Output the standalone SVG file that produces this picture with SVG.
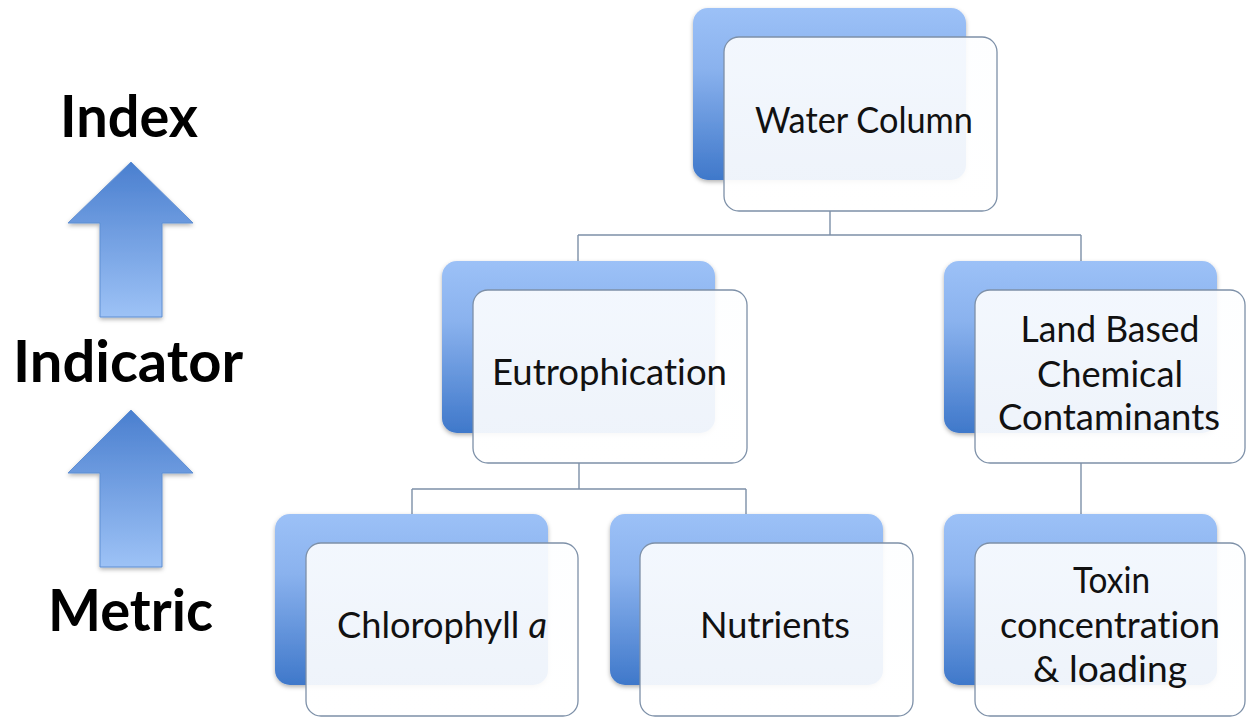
<svg xmlns="http://www.w3.org/2000/svg" width="1246" height="717" viewBox="0 0 1246 717">
  <defs>
    <linearGradient id="backGrad" x1="0" y1="0" x2="0" y2="1">
      <stop offset="0" stop-color="#9CC1F7"/>
      <stop offset="0.35" stop-color="#8AB2EE"/>
      <stop offset="1" stop-color="#3F78CA"/>
    </linearGradient>
    <linearGradient id="frontGrad" x1="0" y1="0" x2="0" y2="1">
      <stop offset="0" stop-color="#FDFEFF" stop-opacity="0.9"/>
      <stop offset="1" stop-color="#FFFFFF" stop-opacity="0.92"/>
    </linearGradient>
    <linearGradient id="arrowGrad" x1="0" y1="0" x2="0" y2="1">
      <stop offset="0" stop-color="#4A7FCF"/>
      <stop offset="1" stop-color="#9DC2F6"/>
    </linearGradient>
    <filter id="shadow" x="-10%" y="-10%" width="120%" height="125%">
      <feDropShadow dx="0" dy="2" stdDeviation="2" flood-color="#000" flood-opacity="0.3"/>
    </filter>
  </defs>
  <style>
    .back { fill: url(#backGrad); filter: url(#shadow); }
    .front { fill: url(#frontGrad); stroke: #7D90A8; stroke-width: 1.3; }
    .conn { fill: none; stroke: #7D90A8; stroke-width: 1.4; }
    .lbl { font-family: Lato, "Open Sans", "Liberation Sans", sans-serif; font-size: 36px; fill: #111; text-anchor: middle; font-variant-ligatures: none; }
    .side { font-family: Lato, "Open Sans", "Liberation Sans", sans-serif; font-size: 57px; font-weight: bold; fill: #000; text-anchor: middle; font-variant-ligatures: none; }
    .arrow { fill: url(#arrowGrad); stroke: #5F8FD3; stroke-width: 1; filter: url(#shadow); }
  </style>
  <rect width="1246" height="717" fill="#FFFFFF"/>

  <g id="scale">
    <text class="side" x="129" y="137" textLength="138" lengthAdjust="spacingAndGlyphs">Index</text>
    <path class="arrow" d="M131 162 L193 223 L162 223 L162 317 L100 317 L100 223 L68 223 Z"/>
    <text class="side" x="128" y="382" textLength="230" lengthAdjust="spacingAndGlyphs">Indicator</text>
    <path class="arrow" d="M131 410 L193 473 L162 473 L162 567 L100 567 L100 473 L68 473 Z"/>
    <text class="side" x="130.5" y="631" textLength="165" lengthAdjust="spacingAndGlyphs">Metric</text>
  </g>

  <g id="connectors">
    <path class="conn" d="M830 211 V235 M578 235 H1081 M578 235 V261 M1081 235 V261"/>
    <path class="conn" d="M579 463 V489 M412 489 H746 M412 489 V514 M746 489 V514"/>
    <path class="conn" d="M1081 463 V514"/>
  </g>

  <g id="node-water-column">
    <rect class="back" x="693" y="8" width="273" height="172" rx="15"/>
    <rect class="front" x="724" y="37" width="273" height="174" rx="15"/>
    <text class="lbl" x="864" y="133" textLength="218" lengthAdjust="spacingAndGlyphs">Water Column</text>
  </g>

  <g id="node-eutrophication">
    <rect class="back" x="442" y="261" width="273" height="172" rx="15"/>
    <rect class="front" x="473" y="290" width="274" height="173" rx="15"/>
    <text class="lbl" x="609.5" y="385" textLength="235" lengthAdjust="spacingAndGlyphs">Eutrophication</text>
  </g>

  <g id="node-land-based">
    <rect class="back" x="944" y="261" width="273" height="172" rx="15"/>
    <rect class="front" x="975" y="290" width="270" height="173" rx="15"/>
    <text class="lbl" x="1110" y="342" textLength="179" lengthAdjust="spacingAndGlyphs">Land Based</text>
    <text class="lbl" x="1110" y="387" textLength="146" lengthAdjust="spacingAndGlyphs">Chemical</text>
    <text class="lbl" x="1109" y="430" textLength="222" lengthAdjust="spacingAndGlyphs">Contaminants</text>
  </g>

  <g id="node-chlorophyll">
    <rect class="back" x="275" y="514" width="273" height="171" rx="15"/>
    <rect class="front" x="306" y="543" width="272" height="173" rx="15"/>
    <text class="lbl" x="442" y="638" textLength="210" lengthAdjust="spacingAndGlyphs">Chlorophyll <tspan font-style="italic">a</tspan></text>
  </g>

  <g id="node-nutrients">
    <rect class="back" x="610" y="514" width="273" height="171" rx="15"/>
    <rect class="front" x="640" y="543" width="273" height="173" rx="15"/>
    <text class="lbl" x="775" y="638" textLength="150" lengthAdjust="spacingAndGlyphs">Nutrients</text>
  </g>

  <g id="node-toxin">
    <rect class="back" x="944" y="514" width="273" height="171" rx="15"/>
    <rect class="front" x="975" y="543" width="270" height="173" rx="15"/>
    <text class="lbl" x="1111.5" y="593" textLength="77" lengthAdjust="spacingAndGlyphs">Toxin</text>
    <text class="lbl" x="1110" y="638" textLength="220" lengthAdjust="spacingAndGlyphs">concentration</text>
    <text class="lbl" x="1110" y="682" textLength="154" lengthAdjust="spacingAndGlyphs">&amp; loading</text>
  </g>
</svg>
